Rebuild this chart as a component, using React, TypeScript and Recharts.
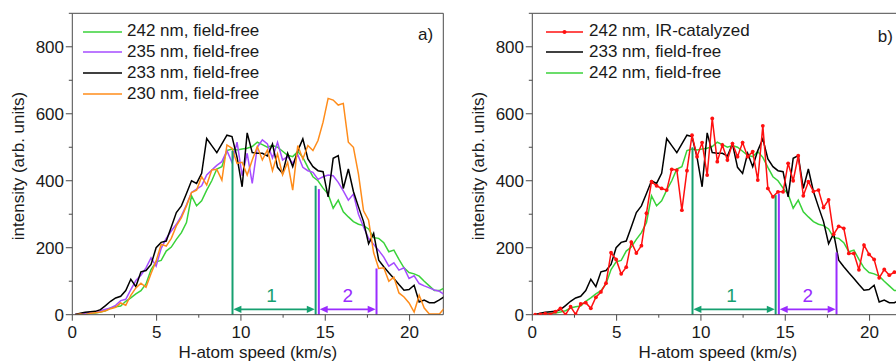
import React from 'react';
import { LineChart, Line, XAxis, YAxis, ReferenceLine, ReferenceDot, Legend, Label } from 'recharts';

const FONT = "'Liberation Sans', Arial, Helvetica, sans-serif";
const TEXT = '#1a1a1a';
const AXIS = '#4a4a4a';
const TEAL = '#16a070';
const VIOLET = '#9a2cff';

// H-atom speed grid (km/s)
const speed = [0.17, 0.47, 0.77, 1.07, 1.37, 1.67, 1.97, 2.27, 2.57, 2.87, 3.17, 3.47, 3.77, 4.07, 4.37, 4.67, 4.97, 5.27, 5.57, 5.87, 6.17, 6.47, 6.77, 7.07, 7.37, 7.67, 7.97, 8.27, 8.57, 8.87, 9.17, 9.47, 9.77, 10.07, 10.37, 10.67, 10.97, 11.27, 11.57, 11.87, 12.17, 12.47, 12.77, 13.07, 13.37, 13.67, 13.97, 14.27, 14.57, 14.87, 15.17, 15.47, 15.77, 16.07, 16.37, 16.67, 16.97, 17.27, 17.57, 17.87, 18.17, 18.47, 18.77, 19.07, 19.37, 19.67, 19.97, 20.27, 20.57, 20.87, 21.17, 21.47, 21.77, 22.07];

// intensities (arb. units)
const green242 = [0, 1, 2, 4, 5, 8, 12, 20, 24, 26, 40, 50, 62, 72, 92, 135, 158, 162, 190, 202, 225, 245, 275, 355, 325, 340, 372, 400, 435, 442, 490, 495, 492, 495, 497, 502, 515, 508, 500, 505, 500, 488, 476, 472, 487, 470, 440, 412, 400, 378, 360, 318, 342, 307, 292, 278, 270, 266, 256, 230, 228, 215, 188, 193, 165, 140, 126, 122, 115, 100, 86, 72, 72, 80];
const purple235 = [1, 3, 4, 7, 9, 12, 16, 20, 28, 42, 46, 75, 102, 118, 140, 170, 145, 198, 228, 250, 270, 295, 328, 365, 375, 385, 417, 432, 446, 457, 490, 455, 515, 415, 482, 392, 500, 522, 510, 468, 515, 462, 472, 452, 478, 440, 430, 425, 404, 412, 417, 415, 395, 370, 342, 360, 300, 262, 228, 210, 192, 172, 145, 155, 133, 140, 108, 116, 93, 86, 80, 74, 70, 60];
const black233 = [1, 4, 7, 9, 10, 15, 27, 40, 50, 55, 72, 106, 84, 128, 132, 150, 200, 216, 220, 262, 305, 325, 362, 400, 392, 422, 526, 505, 484, 510, 536, 532, 470, 382, 543, 484, 482, 482, 474, 510, 440, 422, 482, 442, 490, 525, 465, 442, 430, 427, 352, 467, 475, 377, 435, 368, 322, 278, 212, 243, 163, 143, 125, 108, 90, 73, 75, 88, 38, 44, 36, 36, 44, 54];
const orange230 = [0, 2, 0, 4, 6, 8, 12, 18, 22, 35, 28, 58, 80, 94, 82, 123, 160, 210, 205, 228, 265, 290, 325, 365, 372, 412, 387, 432, 434, 402, 507, 497, 452, 455, 417, 462, 502, 462, 492, 430, 480, 418, 455, 372, 505, 465, 505, 490, 520, 575, 646, 641, 626, 631, 515, 500, 420, 310, 282, 185, 138, 140, 100, 112, 65, 53, 35, 8, 58, 20, 2, 2, 2, 20];
const red242ir = [0, 1, 3, 1, 9, 19, 0, 24, 1, 32, 36, 19, 52, 68, 94, 185, 165, 122, 142, 217, 184, 206, 303, 397, 385, 377, 372, 434, 432, 312, 430, 536, 472, 514, 417, 586, 457, 507, 462, 511, 472, 514, 472, 487, 402, 564, 377, 352, 367, 367, 452, 400, 475, 355, 397, 368, 372, 320, 343, 240, 264, 258, 183, 183, 134, 208, 180, 165, 110, 135, 118, 127, 125, 125];

// axis ticks
const xTicks = [0, 2.5, 5, 7.5, 10, 12.5, 15, 17.5, 20];
const yTicks = [0, 100, 200, 300, 400, 500, 600, 700, 800, 900];
const yMajor = [0, 200, 400, 600, 800];

// speed-range boundaries (km/s) and the heights their markers reach
const boundsA = [9.5, 14.43, 14.62, 18.04];
const topsA = [490, 385, 375, 138];
const boundsB = [9.5, 14.43, 14.62, 18.04];
const topsB = [500, 357, 362, 186];
const arrowLevel = 16;
const rangeLabelLevel = 59;

const rowsA = speed.map((x, i) => ({ x, g242: green242[i], p235: purple235[i], k233: black233[i], o230: orange230[i] }));
const rowsB = speed.map((x, i) => ({ x, r242: red242ir[i], k233: black233[i], g242: green242[i] }));

type SeriesDef = { key: string; name: string; color: string; dots?: boolean };

const seriesA: SeriesDef[] = [
  { key: 'g242', name: '242 nm, field-free', color: '#3ad23a' },
  { key: 'p235', name: '235 nm, field-free', color: '#a64dff' },
  { key: 'k233', name: '233 nm, field-free', color: '#000000' },
  { key: 'o230', name: '230 nm, field-free', color: '#ff8c1a' },
];
const seriesB: SeriesDef[] = [
  { key: 'r242', name: '242 nm, IR-catalyzed', color: '#ff1010', dots: true },
  { key: 'k233', name: '233 nm, field-free', color: '#000000' },
  { key: 'g242', name: '242 nm, field-free', color: '#3ad23a' },
];
const drawOrderA = ['g242', 'p235', 'k233', 'o230'];
const drawOrderB = ['g242', 'k233', 'r242'];

const XTick = (props: any) => {
  const { x, y, payload } = props;
  const v = payload.value;
  const major = v % 5 === 0;
  return (
    <g>
      <line x1={x} x2={x} y1={y} y2={y + (major ? 6 : 3)} stroke={AXIS} strokeWidth={1} />
      {major && (
        <text x={x} y={y + 23.5} textAnchor="middle" fontSize={17} fill={TEXT} fontFamily={FONT}>{v}</text>
      )}
    </g>
  );
};

const YTick = (props: any) => {
  const { x, y, payload } = props;
  const v = payload.value;
  const major = yMajor.includes(v);
  return (
    <g>
      <line x1={x - (major ? 6.5 : 3.5)} x2={x} y1={y} y2={y} stroke={AXIS} strokeWidth={1} />
      {major && (
        <text x={x - 8.3} y={y + 6} textAnchor="end" fontSize={17} fill={TEXT} fontFamily={FONT}>{v}</text>
      )}
    </g>
  );
};

const XLabel = (p: any) => {
  const vb = p.viewBox || { x: 72.3, y: 314.7, width: 371, height: 46.3 };
  const cx = vb.x + vb.width / 2;
  const by = vb.y + 42.8;
  return (
    <text x={cx} y={by} textAnchor="middle" fontSize={17} fill={TEXT} fontFamily={FONT}>H-atom speed (km/s)</text>
  );
};

const YLabel = (p: any) => {
  const vb = p.viewBox || { x: 10.3, y: 13.3, width: 62, height: 301.4 };
  const cx = vb.x + 13.7;
  const cy = vb.y + vb.height / 2 + 2;
  return (
    <text x={cx} y={cy} transform={`rotate(-90 ${cx} ${cy})`} textAnchor="middle" fontSize={17} fill={TEXT} fontFamily={FONT}>
      intensity (arb. units)
    </text>
  );
};

const arrowShape = (color: string) => (props: any) => {
  const { x1, y1, x2, y2 } = props;
  const L = 8;
  const W = 3.6;
  return (
    <g>
      <line x1={x1 + L - 1} y1={y1} x2={x2 - L + 1} y2={y2} stroke={color} strokeWidth={1.7} />
      <polygon points={`${x1},${y1} ${x1 + L},${y1 - W} ${x1 + L},${y1 + W}`} fill={color} />
      <polygon points={`${x2},${y2} ${x2 - L},${y2 - W} ${x2 - L},${y2 + W}`} fill={color} />
    </g>
  );
};

const textShape = (txt: string, color: string, size: number) => (props: any) => (
  <text x={props.cx} y={props.cy + size * 0.36} textAnchor="middle" fontSize={size} fill={color} fontFamily={FONT}>{txt}</text>
);

const makeLegend = (items: SeriesDef[], sampleW: number, gap: number) => () => (
  <div style={{ fontFamily: FONT, fontSize: 17, color: TEXT }}>
    {items.map((s) => (
      <div key={s.key} style={{ display: 'flex', alignItems: 'center', height: 20.8, whiteSpace: 'nowrap' }}>
        <svg width={sampleW} height={8} style={{ display: 'block' }}>
          <line x1={0} y1={4} x2={sampleW} y2={4} stroke={s.color} strokeWidth={1.6} />
          {s.dots && <circle cx={sampleW / 2} cy={4} r={2} fill={s.color} />}
        </svg>
        <span style={{ marginLeft: gap, lineHeight: '20.8px' }}>{s.name}</span>
      </div>
    ))}
  </div>
);

type PanelProps = {
  rows: any[];
  series: SeriesDef[];
  order: string[];
  bounds: number[];
  tops: number[];
  tag: string;
  tagX: number;
  tagY: number;
  legendLeft: number;
  sampleW: number;
  gap: number;
};

function Panel({ rows, series, order, bounds, tops, tag, tagX, tagY, legendLeft, sampleW, gap }: PanelProps) {
  const byKey: Record<string, SeriesDef> = {};
  series.forEach((s) => (byKey[s.key] = s));
  const boundColors = [TEAL, TEAL, VIOLET, VIOLET];
  return (
    <LineChart width={460} height={361} data={rows} margin={{ top: 13.3, right: 16.7, bottom: 0, left: 10.3 }}>
      <XAxis
        type="number"
        dataKey="x"
        domain={[0, 22]}
        allowDataOverflow
        ticks={xTicks}
        interval={0}
        tickSize={0}
        tickMargin={0}
        tickLine={false}
        tick={XTick}
        axisLine={{ stroke: AXIS, strokeWidth: 1 }}
        height={46.3}
      >
        <Label content={XLabel} />
      </XAxis>
      <YAxis
        type="number"
        domain={[0, 900]}
        allowDataOverflow
        ticks={yTicks}
        interval={0}
        tickSize={0}
        tickMargin={0}
        tickLine={false}
        tick={YTick}
        axisLine={{ stroke: AXIS, strokeWidth: 1 }}
        width={62}
      >
        <Label content={YLabel} />
      </YAxis>
      <ReferenceLine y={900} stroke={AXIS} strokeWidth={1} />
      <ReferenceLine x={22} stroke={AXIS} strokeWidth={1} />
      {order.map((k) => {
        const s = byKey[k];
        return (
          <Line
            key={k}
            type="linear"
            dataKey={k}
            stroke={s.color}
            strokeWidth={1.5}
            dot={s.dots ? { r: 1.9, fill: s.color, stroke: s.color, strokeWidth: 0 } : false}
            activeDot={false}
            isAnimationActive={false}
          />
        );
      })}
      {bounds.map((b, i) => (
        <ReferenceLine
          key={'b' + i}
          segment={[{ x: b, y: 0 }, { x: b, y: tops[i] }]}
          stroke={boundColors[i]}
          strokeWidth={2}
        />
      ))}
      <ReferenceLine
        segment={[{ x: bounds[0] + 0.05, y: arrowLevel }, { x: bounds[1] - 0.05, y: arrowLevel }]}
        shape={arrowShape(TEAL)}
      />
      <ReferenceLine
        segment={[{ x: bounds[2] + 0.05, y: arrowLevel }, { x: bounds[3] - 0.05, y: arrowLevel }]}
        shape={arrowShape(VIOLET)}
      />
      <ReferenceDot x={11.82} y={rangeLabelLevel} r={1} shape={textShape('1', TEAL, 19)} />
      <ReferenceDot x={16.33} y={rangeLabelLevel} r={1} shape={textShape('2', VIOLET, 19)} />
      <ReferenceDot x={tagX} y={tagY} r={1} shape={textShape(tag, TEXT, 17)} />
      <Legend
        layout="vertical"
        align="center"
        verticalAlign="middle"
        content={makeLegend(series, sampleW, gap)}
        wrapperStyle={{ left: legendLeft, top: 21.2, width: 'auto', height: 'auto' }}
      />
    </LineChart>
  );
}

export default function App() {
  return (
    <div style={{ position: 'fixed', left: 0, top: 0, width: 896, height: 361, overflow: 'hidden', background: '#fff' }}>
      <div style={{ position: 'absolute', left: 0, top: 0 }}>
        <Panel rows={rowsA} series={seriesA} order={drawOrderA} bounds={boundsA} tops={topsA} tag="a)" tagX={20.95} tagY={840} legendLeft={83} sampleW={39} gap={5} />
      </div>
      <div style={{ position: 'absolute', left: 460, top: 0 }}>
        <Panel rows={rowsB} series={seriesB} order={drawOrderB} bounds={boundsB} tops={topsB} tag="b)" tagX={20.94} tagY={833} legendLeft={86} sampleW={37} gap={6} />
      </div>
    </div>
  );
}
